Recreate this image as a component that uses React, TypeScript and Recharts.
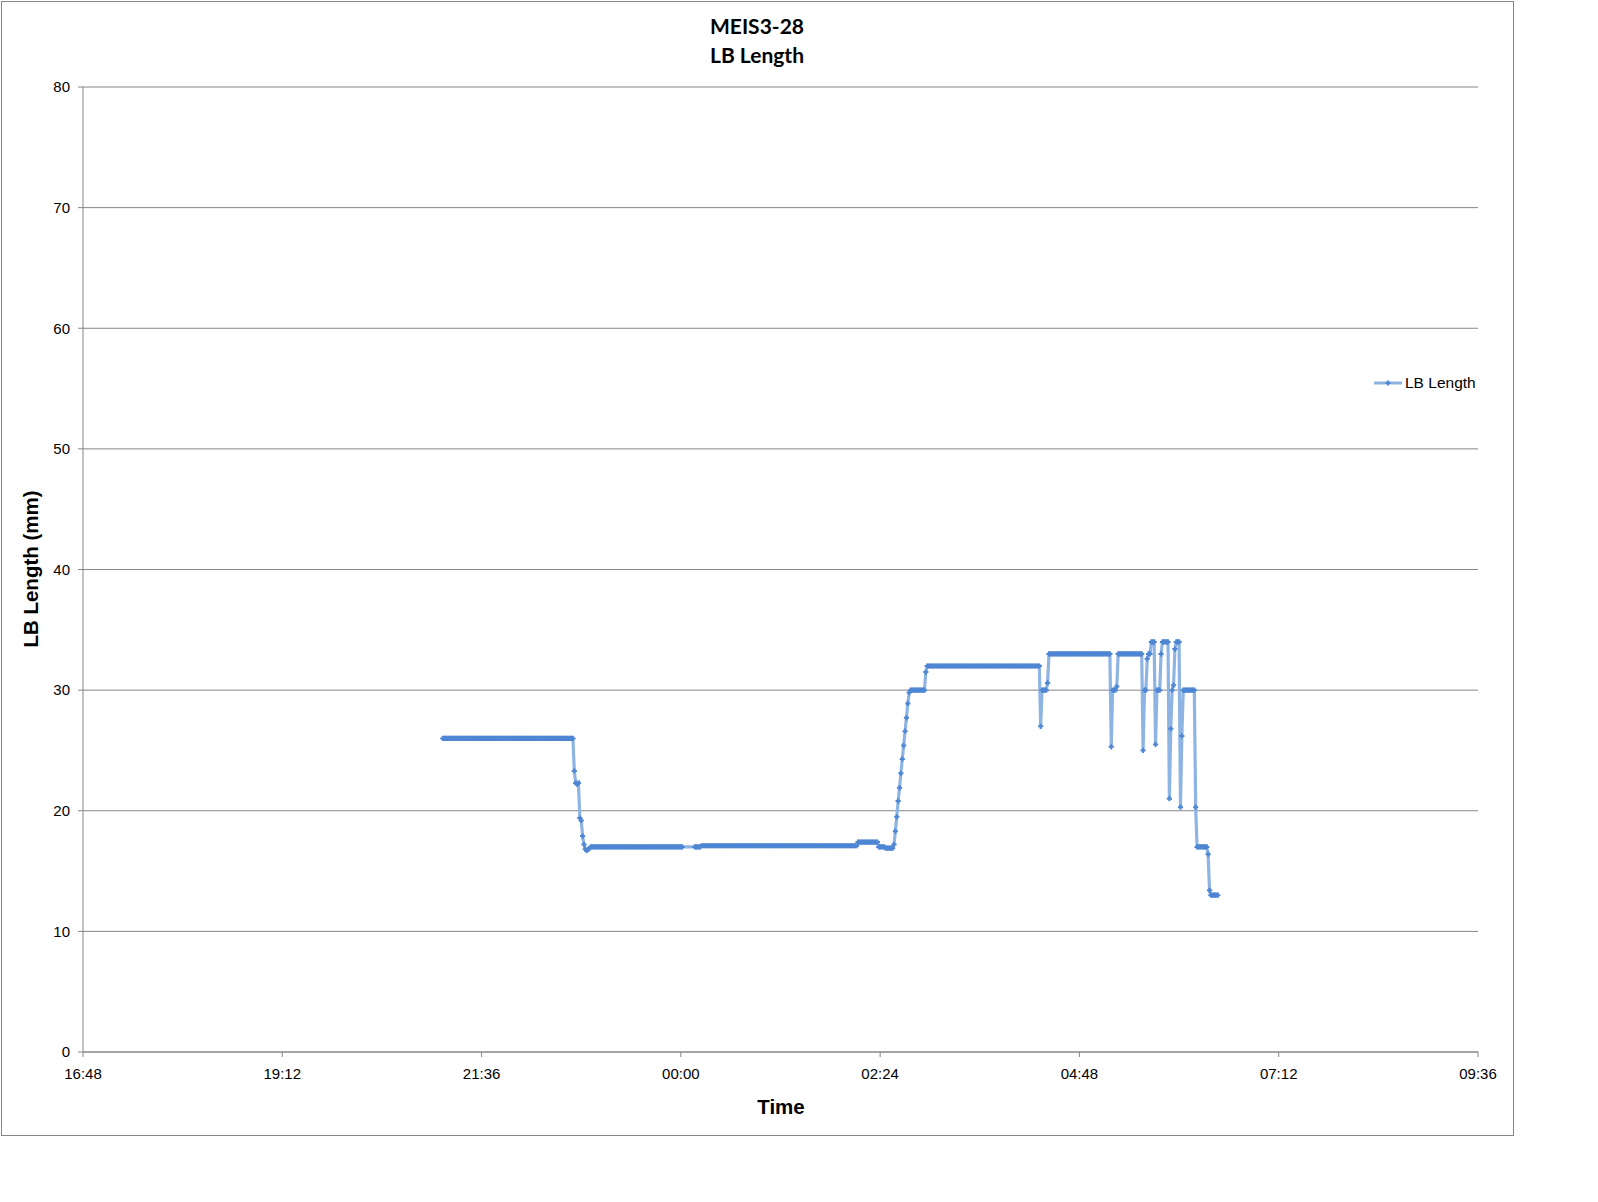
import { LineChart, Line, XAxis, YAxis, CartesianGrid } from "recharts";

// chart text
const titleLines = ["MEIS3-28", "LB Length"];
const xAxisTitle = "Time";
const yAxisTitle = "LB Length (mm)";
const seriesName = "LB Length";

// axis ticks
const xTickLabels = ["16:48", "19:12", "21:36", "00:00", "02:24", "04:48", "07:12", "09:36"];
const yTicks = [0, 10, 20, 30, 40, 50, 60, 70, 80];

// one reading per minute, first one at 21:08 (null = no reading)
const firstReading = "21:08";
const lbLength: (number | null)[] = [
  26, 26, 26, 26, 26, 26, 26, 26, 26, 26, // 21:08
  26, 26, 26, 26, 26, 26, 26, 26, 26, 26,
  26, 26, 26, 26, 26, 26, 26, 26, 26, 26,
  26, 26, 26, 26, 26, 26, 26, 26, 26, 26,
  26, 26, 26, 26, 26, 26, 26, 26, 26, 26,
  26, 26, 26, 26, 26, 26, 26, 26, 26, 26,
  26, 26, 26, 26, 26, 26, 26, 26, 26, 26,
  26, 26, 26, 26, 26, 26, 26, 26, 26, 26,
  26, 26, 26, 26, 26, 26, 26, 26, 26, 26,
  26, 26, 26, 26, 26, 23.3, 22.3, 22.2, 22.3, 19.4, // 22:38
  19.2, 17.9, 17.2, 16.8, 16.7, 16.8, 16.9, 17, 17, 17,
  17, 17, 17, 17, 17, 17, 17, 17, 17, 17,
  17, 17, 17, 17, 17, 17, 17, 17, 17, 17,
  17, 17, 17, 17, 17, 17, 17, 17, 17, 17,
  17, 17, 17, 17, 17, 17, 17, 17, 17, 17,
  17, 17, 17, 17, 17, 17, 17, 17, 17, 17,
  17, 17, 17, 17, 17, 17, 17, 17, 17, 17,
  17, 17, 17, 17, null, null, null, null, null, null, // 23:58
  null, null, 17, 17, 17, 17, 17, 17.1, 17.1, 17.1,
  17.1, 17.1, 17.1, 17.1, 17.1, 17.1, 17.1, 17.1, 17.1, 17.1,
  17.1, 17.1, 17.1, 17.1, 17.1, 17.1, 17.1, 17.1, 17.1, 17.1,
  17.1, 17.1, 17.1, 17.1, 17.1, 17.1, 17.1, 17.1, 17.1, 17.1,
  17.1, 17.1, 17.1, 17.1, 17.1, 17.1, 17.1, 17.1, 17.1, 17.1,
  17.1, 17.1, 17.1, 17.1, 17.1, 17.1, 17.1, 17.1, 17.1, 17.1,
  17.1, 17.1, 17.1, 17.1, 17.1, 17.1, 17.1, 17.1, 17.1, 17.1,
  17.1, 17.1, 17.1, 17.1, 17.1, 17.1, 17.1, 17.1, 17.1, 17.1,
  17.1, 17.1, 17.1, 17.1, 17.1, 17.1, 17.1, 17.1, 17.1, 17.1,
  17.1, 17.1, 17.1, 17.1, 17.1, 17.1, 17.1, 17.1, 17.1, 17.1,
  17.1, 17.1, 17.1, 17.1, 17.1, 17.1, 17.1, 17.1, 17.1, 17.1,
  17.1, 17.1, 17.1, 17.1, 17.1, 17.1, 17.1, 17.1, 17.1, 17.1,
  17.4, 17.4, 17.4, 17.4, 17.4, 17.4, 17.4, 17.4, 17.4, 17.4, // 02:08
  17.4, 17.4, 17.4, 17.4, 17.4, 17, 17, 17, 17, 17,
  16.9, 16.9, 16.9, 16.9, 16.9, 16.9, 17.2, 18.3, 19.5, 20.8,
  21.9, 23.1, 24.3, 25.4, 26.6, 27.7, 28.9, 29.8, 30, 30,
  30, 30, 30, 30, 30, 30, 30, 30, 30, 31.5,
  32, 32, 32, 32, 32, 32, 32, 32, 32, 32, // 02:58
  32, 32, 32, 32, 32, 32, 32, 32, 32, 32,
  32, 32, 32, 32, 32, 32, 32, 32, 32, 32,
  32, 32, 32, 32, 32, 32, 32, 32, 32, 32,
  32, 32, 32, 32, 32, 32, 32, 32, 32, 32,
  32, 32, 32, 32, 32, 32, 32, 32, 32, 32,
  32, 32, 32, 32, 32, 32, 32, 32, 32, 32,
  32, 32, 32, 32, 32, 32, 32, 32, 32, 32,
  32, 32, 27, 30, 30, 30, 30, 30.6, 33, 33, // 04:18
  33, 33, 33, 33, 33, 33, 33, 33, 33, 33,
  33, 33, 33, 33, 33, 33, 33, 33, 33, 33,
  33, 33, 33, 33, 33, 33, 33, 33, 33, 33,
  33, 33, 33, 33, 33, 33, 33, 33, 33, 33,
  33, 33, 33, 25.3, 30, 30, 30, 30.3, 33, 33, // 05:08
  33, 33, 33, 33, 33, 33, 33, 33, 33, 33,
  33, 33, 33, 33, 33, 33, 25, 30, 30, 32.6,
  33, 33, 34, 34, 34, 25.5, 30, 30, 30, 33,
  34, 34, 34, 34, 34, 21, 26.8, 30, 30.4, 33.4,
  34, 34, 34, 20.3, 26.2, 30, 30, 30, 30, 30, // 05:58
  30, 30, 30, 30, 20.3, 17, 17, 17, 17, 17,
  17, 17, 17, 16.4, 13.4, 13, 13, 13, 13, 13,
  13,
];

const toMinutes = (hhmm: string) => {
  const [h, m] = hhmm.split(":").map(Number);
  return h * 60 + m;
};
// minutes after the first axis label, wrapping past midnight
const sinceAxisStart = (hhmm: string) =>
  (toMinutes(hhmm) - toMinutes(xTickLabels[0]) + 1440) % 1440 || 1440;

const xTicks = xTickLabels.map((l, i) => (i === 0 ? 0 : sinceAxisStart(l)));
const startOffset = sinceAxisStart(firstReading);
const data = lbLength.map((v, i) => ({ t: startOffset + i, lb: v }));

const GRAY = "#868686";
const LINE = "#8EB4E3";
const MARK = "#4F86D3";
const ARIAL = "'Liberation Sans', Arial, sans-serif";

// small plus-shaped marker like Excel's default one
const Marker = (props: any) => {
  const { cx, cy, payload, index } = props;
  if (payload?.lb == null || cy == null || isNaN(cy)) return <g key={`m${index}`} />;
  return (
    <path
      key={`m${index}`}
      d={`M${cx - 2.6},${cy}h5.2M${cx},${cy - 2.6}v5.2`}
      stroke={MARK}
      strokeWidth={2}
      fill="none"
    />
  );
};

export default function App() {
  return (
    <div style={{ position: "absolute", left: 0, top: 0, width: 1598, height: 1202, background: "#fff" }}>
      <div
        style={{
          position: "absolute",
          left: 1,
          top: 1,
          width: 1511,
          height: 1133,
          border: `1px solid ${GRAY}`,
        }}
      />
      <div
        style={{
          position: "absolute",
          left: 1,
          top: 11,
          width: 1512,
          textAlign: "center",
          fontFamily: "Lato, 'Open Sans', sans-serif",
          fontWeight: 700,
          fontSize: 21,
          lineHeight: "29px",
          color: "#000",
        }}
      >
        {titleLines.map((t) => (
          <div key={t}>{t}</div>
        ))}
      </div>
      <div style={{ position: "absolute", left: 0, top: 0 }}>
        <LineChart
          width={1598}
          height={1202}
          data={data}
          margin={{ top: 87, right: 120, bottom: 120, left: 23 }}
        >
          <CartesianGrid vertical={false} stroke={GRAY} strokeWidth={1} />
          <XAxis
            type="number"
            dataKey="t"
            domain={[xTicks[0], xTicks[xTicks.length - 1]]}
            ticks={xTicks}
            interval={0}
            tickFormatter={(v: number) => xTickLabels[xTicks.indexOf(v)] ?? ""}
            height={30}
            stroke={GRAY}
            tickSize={5}
            tickMargin={11}
            tick={{ fill: "#000", fontSize: 15, fontFamily: ARIAL }}
          />
          <YAxis
            type="number"
            domain={[0, 80]}
            ticks={yTicks}
            interval={0}
            width={60}
            stroke={GRAY}
            tickSize={5}
            tickMargin={8}
            tick={{ fill: "#000", fontSize: 15, fontFamily: ARIAL }}
          />
          <Line
            dataKey="lb"
            type="linear"
            stroke={LINE}
            strokeWidth={3.2}
            connectNulls
            dot={Marker}
            activeDot={false}
            isAnimationActive={false}
          />
        </LineChart>
      </div>
      <div
        style={{
          position: "absolute",
          left: 0,
          width: 1562,
          top: 1095,
          textAlign: "center",
          fontFamily: ARIAL,
          fontWeight: 700,
          fontSize: 20.5,
          lineHeight: "24px",
        }}
      >
        {xAxisTitle}
      </div>
      <div
        style={{
          position: "absolute",
          left: 31,
          top: 569,
          transform: "translate(-50%, -50%) rotate(-90deg)",
          whiteSpace: "nowrap",
          fontFamily: ARIAL,
          fontWeight: 700,
          fontSize: 20.5,
          lineHeight: "24px",
        }}
      >
        {yAxisTitle}
      </div>
      <svg style={{ position: "absolute", left: 1372, top: 376 }} width={32} height={14}>
        <line x1={2} x2={30} y1={7} y2={7} stroke={LINE} strokeWidth={3} />
        <path d="M13.4,7h5.2M16,4.4v5.2" stroke={MARK} strokeWidth={2} fill="none" />
      </svg>
      <div
        style={{
          position: "absolute",
          left: 1405,
          top: 374,
          fontFamily: ARIAL,
          fontSize: 15.5,
          lineHeight: "18px",
        }}
      >
        {seriesName}
      </div>
    </div>
  );
}
